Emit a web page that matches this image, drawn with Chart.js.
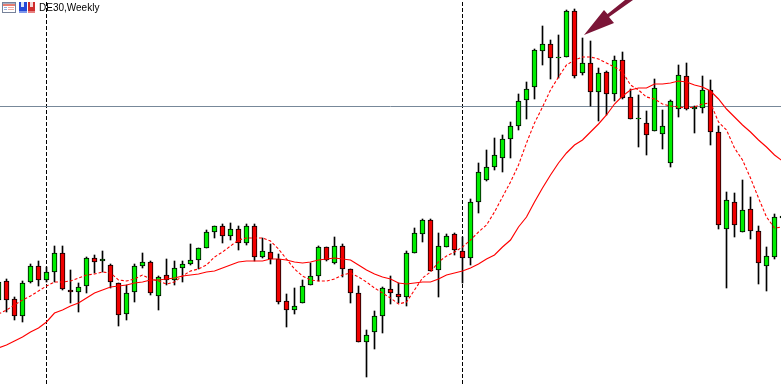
<!DOCTYPE html>
<html>
<head>
<meta charset="utf-8">
<title>DE30,Weekly</title>
<style>
    html, body { margin: 0; padding: 0; background: #fff; overflow: hidden; }
    canvas { display: block; }
</style>
<script src="https://cdn.jsdelivr.net/npm/chart.js@4/dist/chart.umd.min.js"></script>
</head>
<body>
<canvas id="chart" width="781" height="384"></canvas>
<script>
'use strict';

const symbolLabel = 'DE30,Weekly';

// weekly candles, left to right, prices are estimated (the picture has no price axis)
const opens = [6840,7030,6850,6680,7020,7180,7040,7120,7310,6940,6920,6980,7260,7230,7190,7010,6700,6920,7180,7220,
    6880,7090,7040,7160,7200,7240,7360,7520,7580,7480,7550,7410,7580,7270,7320,7250,6830,6740,6810,6990,
    7080,7370,7210,7380,7150,6910,6420,6520,6680,6950,6900,6870,7310,7500,7640,7140,7370,7500,7330,7260,
    7820,8040,8170,8260,8450,8580,8840,8970,9330,9400,9260,9270,9730,9110,9210,8920,9120,8900,9240,8870,
    8650,8610,8530,8500,8210,8750,9080,8750,8760,8940,8520,7550,7820,7520,7750,7530,7180,7270,7660];
const closes = [7020,6840,6680,7010,7180,7040,7120,7310,6950,6920,6970,7260,7220,7250,7020,6690,6910,7180,7220,6910,
    7070,7040,7160,7200,7240,7360,7520,7580,7480,7550,7410,7580,7270,7330,7250,6820,6740,6780,6980,7080,
    7370,7240,7380,7150,6910,6420,6490,6680,6960,6910,6870,7310,7510,7640,7130,7380,7480,7340,7260,7820,
    8120,8170,8290,8450,8580,8830,8950,9340,9400,9260,9270,9730,9080,9210,8920,9110,8900,9240,8860,8650,
    8660,8490,8960,8580,8830,9090,8750,8770,8940,8520,7590,7840,7590,7740,7530,7210,7280,7670,7680];
const highs = [7040,7050,6870,7030,7200,7230,7170,7380,7380,7140,7010,7270,7290,7330,7200,7010,6990,7200,7310,7230,
    7080,7250,7230,7230,7400,7360,7540,7580,7600,7610,7580,7600,7600,7460,7400,7300,6900,6960,7040,7210,
    7380,7370,7470,7400,7150,6980,6540,6730,6970,7080,7010,7330,7560,7650,7650,7510,7500,7510,7470,7850,
    8210,8340,8460,8490,8620,8900,9020,9350,9580,9440,9490,9740,9750,9460,9430,9160,9130,9280,9320,8950,
    8890,8730,9050,8740,8840,9190,9210,8780,9080,9040,8580,7920,7910,8040,7870,7580,7370,7700,7680];
const lows = [6810,6720,6640,6620,7010,6980,7020,7020,6940,6810,6720,6910,7110,7120,6960,6580,6640,6820,7160,6890,
    6740,6990,6990,7020,7190,7150,7360,7460,7410,7440,7340,7390,7230,7260,7200,6800,6570,6700,6810,6990,
    7030,7230,7200,7070,6810,6420,6070,6350,6510,6800,6810,6780,7310,7420,7130,6870,7370,7290,7010,7190,
    7710,8030,8140,8120,8260,8540,8650,8850,9190,9050,9060,9270,9060,9090,8780,8630,8690,8830,8850,8650,
    8370,8290,8530,8350,8170,8670,8740,8510,8710,8390,7550,6960,7470,7520,7450,7000,6930,7250,7650];

// moving averages
const slowAverage = [6360,6390,6430,6470,6520,6560,6620,6710,6740,6780,6810,6860,6910,6940,6970,6980,6990,7010,7020,7040,
    7040,7050,7060,7080,7090,7100,7120,7130,7160,7190,7220,7230,7230,7230,7250,7250,7240,7220,7210,7220,
    7240,7250,7260,7250,7240,7190,7140,7100,7070,7050,7010,7000,7010,7020,7020,7050,7090,7110,7130,7160,
    7200,7250,7290,7370,7440,7570,7670,7820,7960,8090,8210,8310,8390,8440,8520,8600,8690,8800,8880,8940,
    8960,8960,9000,9000,9010,9030,9020,8990,8970,8930,8850,8750,8670,8590,8520,8440,8370,8290,8230];
const fastAverage = [6700,6740,6790,6840,6880,6930,6980,7020,7020,7030,7060,7090,7100,7120,7110,7040,7030,7050,7090,7050,
    7030,7000,7020,7080,7130,7150,7190,7270,7320,7380,7440,7460,7460,7460,7430,7350,7250,7150,7080,7040,
    7030,7030,7050,7090,7110,7070,7020,6960,6910,6860,6800,6820,6940,7060,7120,7220,7280,7320,7370,7440,
    7520,7590,7720,7870,8020,8190,8410,8610,8770,8940,9070,9190,9240,9270,9270,9250,9210,9170,9120,8990,
    8940,8870,8850,8800,8780,8770,8760,8770,8800,8810,8620,8540,8360,8240,8060,7860,7670,7560,7570];

const weekMarkers = [6, 58];    // vertical period separators
const priceLevel = 8775;        // horizontal line
const priceMin = 6000;
const priceMax = 9840;

const weeks = opens.map((o, i) => i);
const upColor = '#00ee00';
const downColor = '#f00000';

function drawWindowIcon(ctx) {
    ctx.fillStyle = '#fff';
    ctx.fillRect(2, 2, 14, 11);
    ctx.strokeStyle = '#76829a';
    ctx.lineWidth = 1;
    ctx.strokeRect(2.5, 2.5, 13, 10);
    ctx.fillStyle = '#a7b0c4';
    ctx.fillRect(3, 3, 12, 1);
    ctx.fillStyle = '#e87c70';
    ctx.fillRect(3, 4, 12, 2);
    ctx.fillStyle = '#93aee0';
    ctx.fillRect(4, 7, 3, 1);
    ctx.fillRect(4, 9, 3, 1);
    ctx.fillStyle = '#f2aaa0';
    ctx.fillRect(8, 7, 6, 1);
    ctx.fillRect(8, 9, 6, 1);
}

function drawPairIcon(ctx) {
    ctx.fillStyle = '#2448d6';
    ctx.fillRect(19, 2, 8, 11);
    ctx.fillStyle = '#cf2c2c';
    ctx.fillRect(28, 2, 7, 11);
    ctx.fillStyle = '#dbe3f7';
    ctx.fillRect(21, 2, 3, 5);
    ctx.fillStyle = '#f4d8d8';
    ctx.fillRect(30, 2, 3, 5);
    ctx.fillStyle = '#7f97ea';
    ctx.fillRect(19, 11, 8, 2);
    ctx.fillStyle = '#e67f7f';
    ctx.fillRect(28, 11, 7, 2);
}

function drawArrow(ctx) {
    ctx.fillStyle = '#7b1537';
    ctx.beginPath();
    ctx.moveTo(584, 35);
    ctx.lineTo(604, 10);
    ctx.lineTo(607.5, 14);
    ctx.lineTo(625, 0);
    ctx.lineTo(633, 0);
    ctx.lineTo(609, 17);
    ctx.lineTo(614, 23);
    ctx.closePath();
    ctx.fill();
}

const chartDecorations = {
    id: 'chartDecorations',
    afterDraw(chart) {
        const ctx = chart.ctx;
        ctx.save();
        drawWindowIcon(ctx);
        drawPairIcon(ctx);
        drawArrow(ctx);
        ctx.fillStyle = '#000';
        ctx.font = '10px "Liberation Sans"';
        ctx.textBaseline = 'alphabetic';
        ctx.fillText(symbolLabel, 39, 11);
        ctx.restore();
    }
};

const separators = weekMarkers.map((week) => ({
    type: 'line',
    data: [{ x: week, y: priceMin }, { x: week, y: priceMax }],
    borderColor: '#000',
    borderWidth: 1,
    borderDash: [4, 2],
    pointRadius: 0,
    order: 5
}));

new Chart(document.getElementById('chart'), {
    data: {
        datasets: [
            {
                type: 'line',
                data: weeks.map((x, i) => ({ x, y: fastAverage[i] })),
                borderColor: '#ff0000',
                borderWidth: 1.1,
                borderDash: [3, 2],
                pointRadius: 0,
                tension: 0,
                order: 1
            },
            {
                type: 'line',
                data: weeks.map((x, i) => ({ x, y: slowAverage[i] })),
                borderColor: '#ff0000',
                borderWidth: 1.15,
                pointRadius: 0,
                tension: 0,
                order: 1
            },
            {
                type: 'bar',
                data: weeks.map((x, i) => ({ x, y: [opens[i], closes[i]] })),
                backgroundColor: weeks.map((x, i) => closes[i] >= opens[i] ? upColor : downColor),
                borderColor: '#000',
                borderWidth: 1,
                borderSkipped: false,
                barThickness: 5,
                grouped: false,
                order: 2
            },
            {
                type: 'bar',
                data: weeks.map((x, i) => ({ x, y: [lows[i], highs[i]] })),
                backgroundColor: '#000',
                borderWidth: 0,
                barThickness: 1,
                grouped: false,
                order: 3
            },
            {
                type: 'line',
                data: [{ x: weeks[0], y: priceLevel }, { x: weeks[weeks.length - 1], y: priceLevel }],
                borderColor: '#778899',
                borderWidth: 1,
                pointRadius: 0,
                order: 4
            },
            ...separators
        ]
    },
    options: {
        responsive: false,
        animation: false,
        events: [],
        layout: { padding: 0 },
        plugins: { legend: { display: false }, tooltip: { enabled: false } },
        scales: {
            // one week is 8 px wide, the first candle sits half cut off at the left edge
            x: { type: 'linear', display: false, offset: false, min: 0.1875, max: 97.8125 },
            y: { type: 'linear', display: false, min: priceMin, max: priceMax }
        }
    },
    plugins: [chartDecorations]
});
</script>
</body>
</html>
